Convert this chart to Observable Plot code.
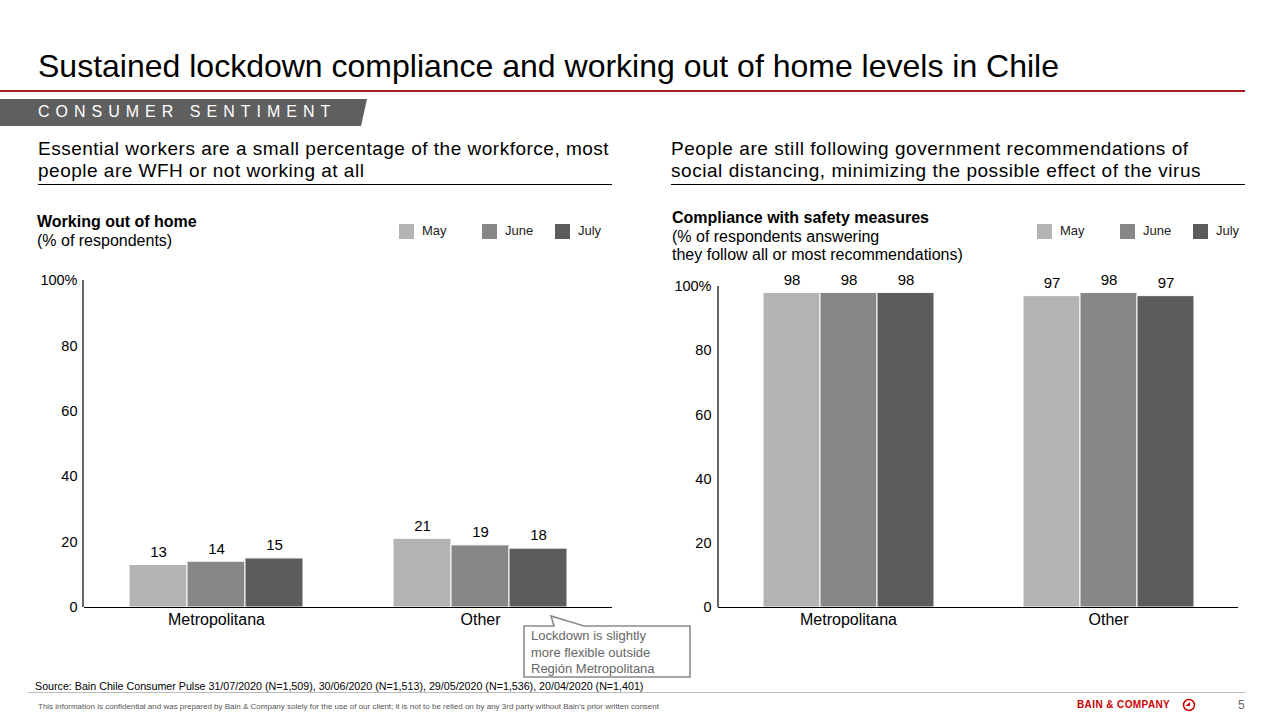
<!DOCTYPE html>
<html><head><meta charset="utf-8">
<script src="https://cdn.jsdelivr.net/npm/d3@7"></script>
<script src="https://cdn.jsdelivr.net/npm/@observablehq/plot@0.6"></script>
<style>
body{margin:0;background:#fff;font-family:"Liberation Sans",Arial,sans-serif;color:#000;}
#page{position:relative;width:1280px;height:720px;overflow:hidden;background:#fff;}
.abs{position:absolute;white-space:nowrap;}
.sq{position:absolute;width:15px;height:15px;}
.lg{position:absolute;font-size:13px;color:#222;}
</style></head><body><div id="page">
<div class="abs" style="left:38px;top:48px;font-size:32px;">Sustained lockdown compliance and working out of home levels in Chile</div>
<div class="abs" style="left:0;top:90px;width:1245px;height:2px;background:#a31f24;"></div>
<svg class="abs" style="left:0;top:0" width="400" height="130"><polygon points="0,99 367,99 361,126 0,126" fill="#5f5f5f"/></svg>
<div class="abs" style="left:38px;top:103px;font-size:16px;letter-spacing:6px;color:#fff;">CONSUMER SENTIMENT</div>

<div class="abs" style="left:38px;top:138px;font-size:19px;line-height:22px;letter-spacing:0.5px;">Essential workers are a small percentage of the workforce, most<br>people are WFH or not working at all</div>
<div class="abs" style="left:38px;top:184px;width:574px;height:1px;background:#000;"></div>
<div class="abs" style="left:671px;top:138px;font-size:19px;line-height:22px;letter-spacing:0.55px;">People are still following government recommendations of<br>social distancing, minimizing the possible effect of the virus</div>
<div class="abs" style="left:671px;top:184px;width:574px;height:1px;background:#000;"></div>

<div class="abs" style="left:37px;top:212px;font-size:16px;line-height:19px;"><b>Working out of home</b><br>(% of respondents)</div>
<div class="abs" style="left:672px;top:209px;font-size:16px;line-height:18.5px;"><b>Compliance with safety measures</b><br>(% of respondents answering<br>they follow all or most recommendations)</div>

<div id="legendL"></div><div id="legendR"></div>
<div id="chartL" class="abs" style="left:20px;top:265px;"></div>
<div id="chartR" class="abs" style="left:660px;top:265px;"></div>

<svg class="abs" style="left:0;top:0;pointer-events:none" width="1280" height="720">
<path d="M524,626 H554 L551,616 L584,626 H690 V677 H524 Z" fill="#fff" stroke="#8a8a8a" stroke-width="1.6"/>
</svg>
<div class="abs" style="left:531px;top:628px;font-size:13px;line-height:16.5px;color:#666;">Lockdown is slightly<br>more flexible outside<br>Región Metropolitana</div>

<div class="abs" style="left:35px;top:680px;font-size:10.7px;">Source: Bain Chile Consumer Pulse 31/07/2020 (N=1,509), 30/06/2020 (N=1,513), 29/05/2020 (N=1,536), 20/04/2020 (N=1,401)</div>
<div class="abs" style="left:28px;top:692px;width:1217px;height:1px;background:#bbb;"></div>
<div class="abs" style="left:38px;top:702px;font-size:8px;color:#555;">This information is confidential and was prepared by Bain &amp; Company solely for the use of our client; it is not to be relied on by any 3rd party without Bain's prior written consent</div>
<div class="abs" style="left:1077px;top:699px;font-size:10px;font-weight:bold;letter-spacing:0.4px;color:#cc0000;">BAIN &amp; COMPANY</div>
<svg class="abs" style="left:1182px;top:698px" width="14" height="14"><circle cx="7" cy="7" r="5.5" fill="none" stroke="#cc0000" stroke-width="1.5"/><path d="M3.5,8 L8,4 L8,8 Z" fill="#cc0000"/></svg>
<div class="abs" style="left:1238px;top:698px;font-size:12px;color:#666;">5</div>
</div>
<script>
const regions = ["Metropolitana", "Other"];
const months = ["May", "June", "July"];
const monthColors = ["#b3b3b3", "#878787", "#5c5c5c"];
const workingOutMetropolitana = [13, 14, 15];
const workingOutOther = [21, 19, 18];
const complianceMetropolitana = [98, 98, 98];
const complianceOther = [97, 98, 97];
const yTicks = [0, 20, 40, 60, 80, 100];

function legend(id, left) {
  const el = document.getElementById(id);
  const offs = [0, 83, 156];
  months.forEach((m, i) => {
    const s = document.createElement("div");
    s.className = "sq"; s.style.left = (left + offs[i]) + "px"; s.style.top = "224px"; s.style.background = monthColors[i];
    const t = document.createElement("div");
    t.className = "lg"; t.style.left = (left + offs[i] + 23) + "px"; t.style.top = "223px"; t.textContent = m;
    el.appendChild(s); el.appendChild(t);
  });
}
legend("legendL", 399);
legend("legendR", 1037);

function drawChart(id, rows, o) {
  const data = [];
  regions.forEach((r, i) => months.forEach((m, j) => data.push({region: r, month: m, value: rows[i][j]})));
  const chart = Plot.plot({
    width: o.width, height: o.height,
    marginLeft: o.marginLeft, marginRight: o.marginRight, marginTop: o.marginTop, marginBottom: o.marginBottom,
    style: {fontFamily: '"Liberation Sans", Arial, sans-serif', fontSize: "14px", color: "#000", background: "transparent", overflow: "visible"},
    fx: {domain: regions, padding: 0, label: null},
    x: {domain: months, paddingInner: 0, paddingOuter: 0.77, axis: null},
    y: {domain: [0, 100], label: null},
    color: {domain: months, range: monthColors},
    marks: [
      Plot.barY(data, {fx: "region", x: "month", y: "value", fill: "month", stroke: "#fff", strokeWidth: 1}),
      Plot.ruleY([0], {stroke: "#000", strokeWidth: 1.2}),
      Plot.axisY({ticks: yTicks, tickFormat: d => d === 100 ? "100%" : String(d), tickSize: 0, tickPadding: 7, fontSize: 14.5, label: null}),
      Plot.axisFx({anchor: "bottom", tickSize: 0, tickPadding: 6, fontSize: 16, label: null}),
      Plot.text(data, {fx: "region", x: "month", y: "value", text: d => String(d.value), dy: o.labelDy, fontSize: 15, fill: "#000"})
    ]
  });
  const sy = chart.scale("y");
  d3.select(chart).append("line")
    .attr("x1", o.marginLeft).attr("x2", o.marginLeft)
    .attr("y1", sy.apply(0)).attr("y2", sy.apply(100))
    .attr("stroke", "#000").attr("stroke-width", 1.2);
  document.getElementById(id).appendChild(chart);
}

drawChart("chartL", [workingOutMetropolitana, workingOutOther],
  {width: 600, height: 370, marginLeft: 63, marginRight: 8, marginTop: 15, marginBottom: 28, labelDy: -13});
drawChart("chartR", [complianceMetropolitana, complianceOther],
  {width: 590, height: 370, marginLeft: 58, marginRight: 12, marginTop: 21, marginBottom: 28, labelDy: -13});
</script>
</body></html>
